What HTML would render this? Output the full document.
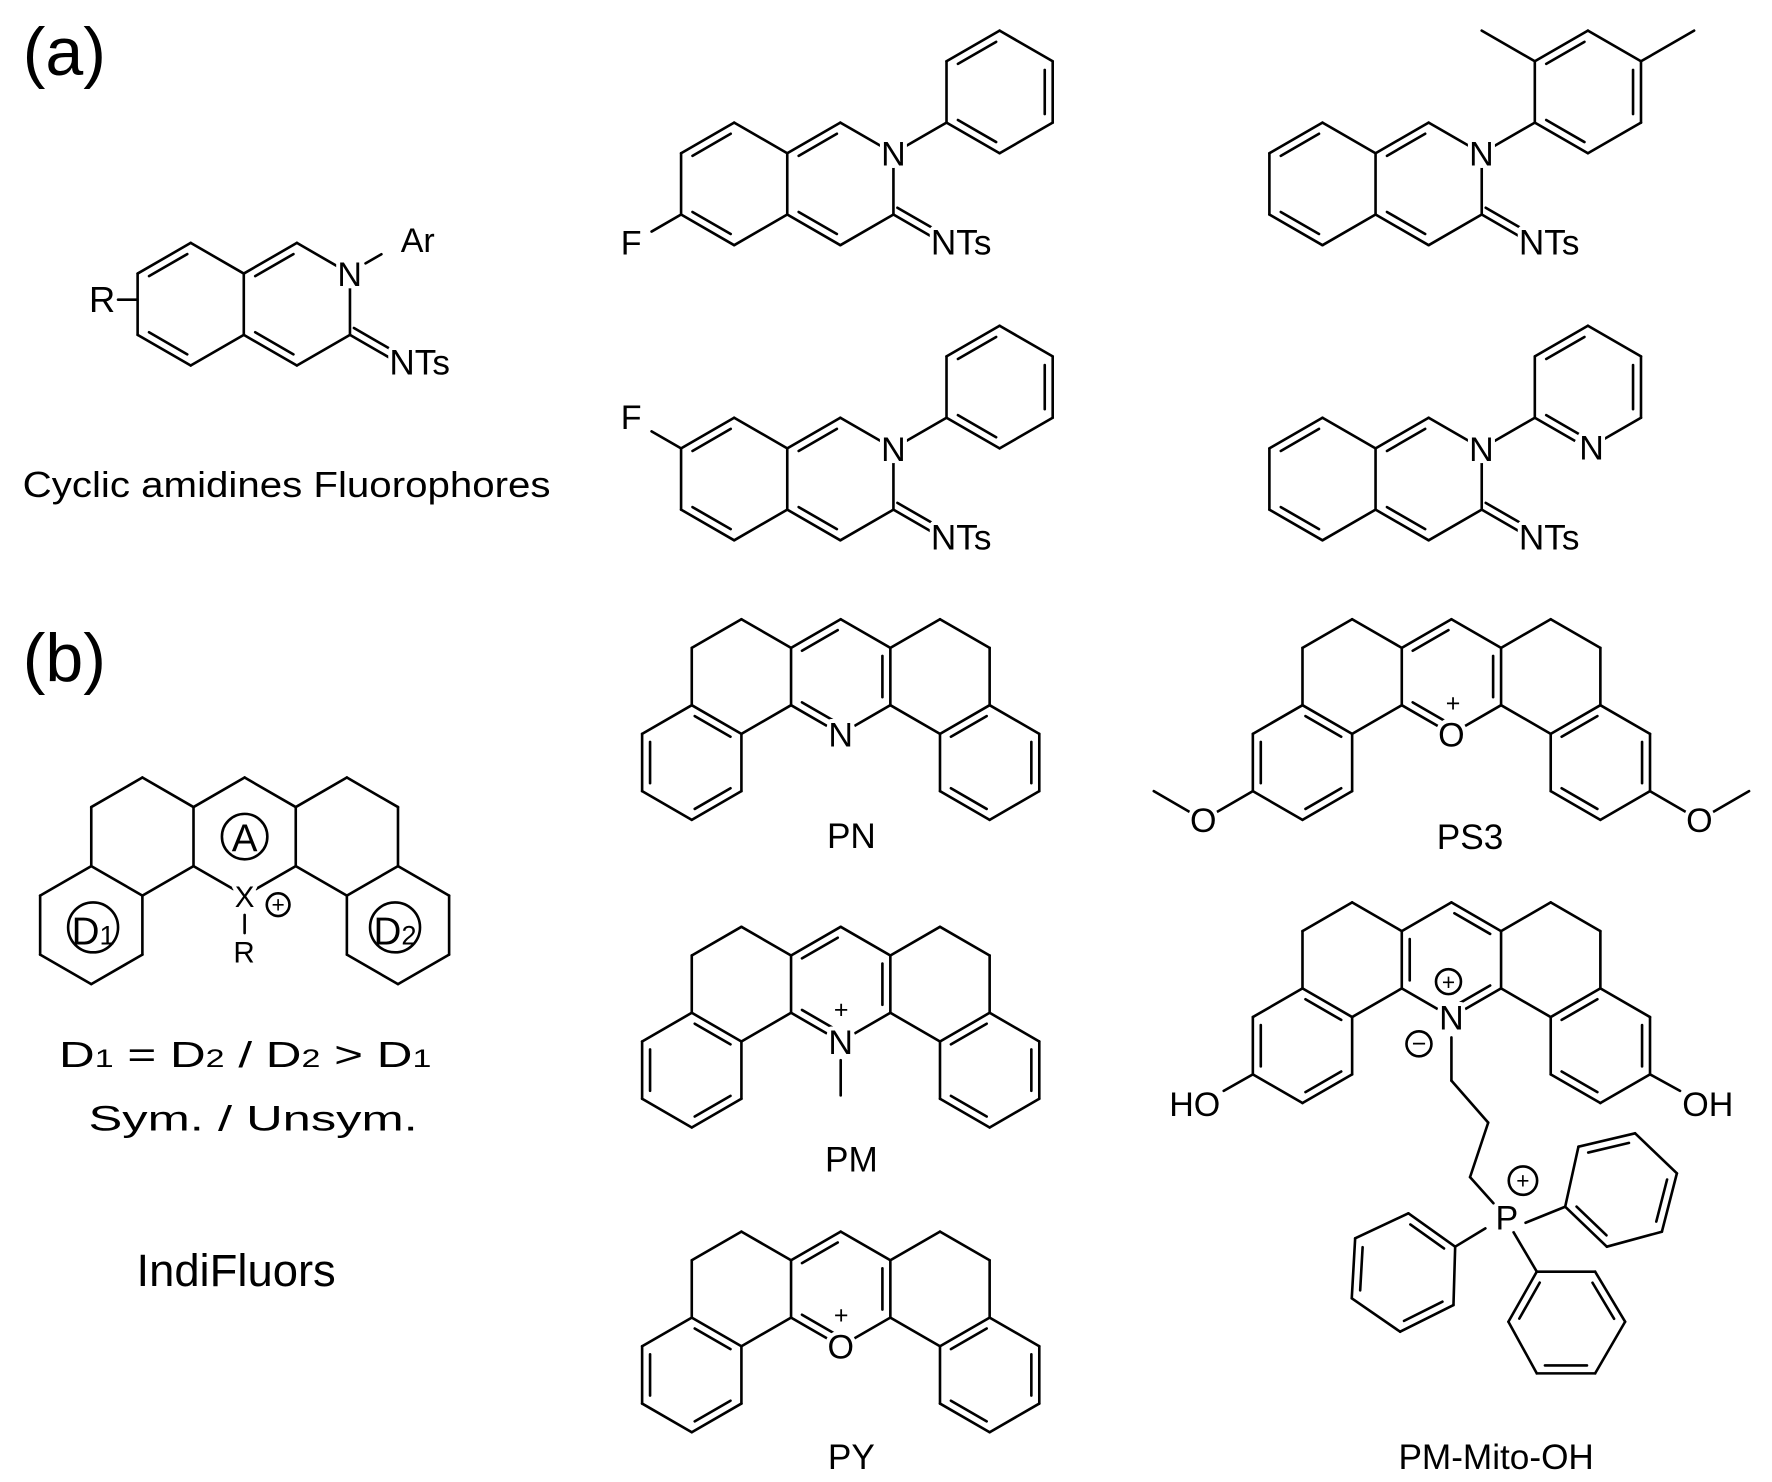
<!DOCTYPE html>
<html><head><meta charset="utf-8"><style>
html,body{margin:0;padding:0;background:#fff}
svg{display:block}
text{font-family:"Liberation Sans",Arial,sans-serif;fill:#000}
.h{stroke:#fff;stroke-width:7;paint-order:stroke;stroke-linejoin:round}
</style></head><body>
<svg id="s" xmlns="http://www.w3.org/2000/svg" width="1772" height="1482" viewBox="0 0 1561 1305.6" preserveAspectRatio="none">
<rect width="1561" height="1306" fill="#fff"/>
<g id="b" stroke="#000" stroke-width="2.3" fill="none" stroke-linecap="round"></g>
<g id="m" fill="#fff" stroke="none"></g>
<g id="t">
<text x="20" y="66" font-size="60">(a)</text>
<text x="20" y="600" font-size="60">(b)</text>

<text class="h" x="90" y="275" font-size="32" text-anchor="middle">R</text>
<text class="h" x="308" y="252" font-size="30" text-anchor="middle">N</text>
<text x="368" y="222" font-size="30" text-anchor="middle">Ar</text>
<text class="h" x="343" y="330" font-size="31">NTs</text>
<text x="20" y="438" font-size="32" textLength="465" lengthAdjust="spacingAndGlyphs">Cyclic amidines Fluorophores</text>

<text class="h" x="787" y="146" font-size="30" text-anchor="middle">N</text>
<text class="h" x="820" y="224" font-size="31">NTs</text>
<text class="h" x="556" y="224" font-size="30" text-anchor="middle">F</text>
<text class="h" x="1305" y="146" font-size="30" text-anchor="middle">N</text>
<text class="h" x="1338" y="224" font-size="31">NTs</text>
<text class="h" x="787" y="406" font-size="30" text-anchor="middle">N</text>
<text class="h" x="820" y="484" font-size="31">NTs</text>
<text class="h" x="556" y="378" font-size="30" text-anchor="middle">F</text>
<text class="h" x="1305" y="406" font-size="30" text-anchor="middle">N</text>
<text class="h" x="1338" y="484" font-size="31">NTs</text>
<text class="h" x="1402" y="405" font-size="30" text-anchor="middle">N</text>

<text x="215.5" y="750" font-size="34" text-anchor="middle">A</text>
<text class="h" x="215.5" y="799" font-size="26" text-anchor="middle">X</text>
<text x="215" y="848" font-size="26" text-anchor="middle">R</text>
<text x="245" y="804" font-size="20" text-anchor="middle">+</text>
<text x="82" y="832" font-size="34" text-anchor="middle">D<tspan font-size="24">1</tspan></text>
<text x="348" y="832" font-size="34" text-anchor="middle">D<tspan font-size="24">2</tspan></text>
<text x="52" y="940" font-size="32" textLength="328" lengthAdjust="spacingAndGlyphs">D<tspan font-size="22">1</tspan> = D<tspan font-size="22">2</tspan>  /  D<tspan font-size="22">2</tspan> &gt; D<tspan font-size="22">1</tspan></text>
<text x="78" y="996" font-size="31" textLength="290" lengthAdjust="spacingAndGlyphs">Sym.   /   Unsym.</text>
<text x="208" y="1133" font-size="40" text-anchor="middle">IndiFluors</text>

<text class="h" x="740.6" y="657.5" font-size="30" text-anchor="middle">N</text>
<text x="750" y="747" font-size="31" text-anchor="middle">PN</text>
<text class="h" x="740.6" y="928.5" font-size="30" text-anchor="middle">N</text>
<text x="741" y="897" font-size="22" text-anchor="middle">+</text>
<text x="750" y="1032" font-size="31" text-anchor="middle">PM</text>
<text class="h" x="740.6" y="1197" font-size="30" text-anchor="middle">O</text>
<text x="741" y="1166" font-size="22" text-anchor="middle">+</text>
<text x="750" y="1294" font-size="31" text-anchor="middle">PY</text>

<text class="h" x="1278.6" y="657.5" font-size="30" text-anchor="middle">O</text>
<text x="1280" y="627" font-size="22" text-anchor="middle">+</text>
<text class="h" x="1060" y="733" font-size="30" text-anchor="middle">O</text>
<text class="h" x="1497" y="733" font-size="30" text-anchor="middle">O</text>
<text x="1295" y="748" font-size="31" text-anchor="middle">PS3</text>

<text class="h" x="1278.6" y="907" font-size="30" text-anchor="middle">N</text>
<text x="1276" y="872" font-size="20" text-anchor="middle">+</text>
<text x="1250" y="927" font-size="22" text-anchor="middle">−</text>
<text class="h" x="1075" y="983" font-size="30" text-anchor="end">HO</text>
<text class="h" x="1482" y="983" font-size="30">OH</text>
<text class="h" x="1327.4" y="1083" font-size="30" text-anchor="middle">P</text>
<text x="1341.6" y="1047" font-size="20" text-anchor="middle">+</text>
<text x="1318" y="1294" font-size="31" text-anchor="middle">PM-Mito-OH</text>
</g>
</svg>
<script>
(function(){
var g=document.getElementById('b'),mk=document.getElementById('m'),NS='http://www.w3.org/2000/svg',S=Math.sqrt(3);
function L(x1,y1,x2,y2){var e=document.createElementNS(NS,'line');e.setAttribute('x1',x1);e.setAttribute('y1',y1);e.setAttribute('x2',x2);e.setAttribute('y2',y2);g.appendChild(e);}
function C(x,y,r){var e=document.createElementNS(NS,'circle');e.setAttribute('cx',x);e.setAttribute('cy',y);e.setAttribute('r',r);g.appendChild(e);}
function M(x,y,r){var e=document.createElementNS(NS,'circle');e.setAttribute('cx',x);e.setAttribute('cy',y);e.setAttribute('r',r||13);mk.appendChild(e);}
function E(p,q){L(p[0],p[1],q[0],q[1]);}
function hex(cx,cy,r){var v=[];for(var i=0;i<6;i++){var t=(-90+60*i)*Math.PI/180;v.push([cx+r*Math.cos(t),cy+r*Math.sin(t)]);}return v;}
function DI(p,q,c){var dx=q[0]-p[0],dy=q[1]-p[1],l=Math.hypot(dx,dy),nx=-dy/l,ny=dx/l;var mx=(p[0]+q[0])/2,my=(p[1]+q[1])/2;if(nx*(c[0]-mx)+ny*(c[1]-my)<0){nx=-nx;ny=-ny;}var o=7,s=0.14;L(p[0]+dx*s+nx*o,p[1]+dy*s+ny*o,q[0]-dx*s+nx*o,q[1]-dy*s+ny*o);}
function ring(v,edges,dbl,c){edges.forEach(function(i){E(v[i],v[(i+1)%6]);});(dbl||[]).forEach(function(i){DI(v[i],v[(i+1)%6],c);});}
var ALL=[0,1,2,3,4,5];
function rotRing(v,d){var cx=0,cy=0;v.forEach(function(p){cx+=p[0]/6;cy+=p[1]/6;});ring(v,ALL,d,[cx,cy]);}
function iso(cx,cy,r){var A=hex(cx,cy,r),bx=cx+r*S,B=hex(bx,cy,r);
 ring(A,ALL,[5,3],[cx,cy]);ring(B,[5,0,1,2,3],[5,3],[bx,cy]);
 var e=[B[2][0]+40*Math.cos(Math.PI/6),B[2][1]+40*Math.sin(Math.PI/6)];
 E(B[2],e);L(B[2][0]+3.5,B[2][1]-6,e[0]+3.5,e[1]-6);M(B[1][0],B[1][1]);return {A:A,B:B};}
function aryl(N,r){var ll=[N[0]+r*S/2,N[1]-r/2];E(N,ll);var c=[ll[0]+r*S/2,ll[1]-r/2];return hex(c[0],c[1],r).concat([c]);}
var r=54;
var o=iso(168,268,r);L(104,264,121,264);L(322,232,336,224);
o=iso(646.75,162,r);var a=aryl(o.B[1],r);ring(a,ALL,[5,1,3],a[6]);E(o.A[4],[574,204]);
o=iso(1165,162,r);a=aryl(o.B[1],r);ring(a,ALL,[5,1,3],a[6]);
L(a[5][0],a[5][1],a[5][0]-46.8,a[5][1]-27);L(a[1][0],a[1][1],a[1][0]+46.8,a[1][1]-27);
o=iso(646.75,422,r);a=aryl(o.B[1],r);ring(a,ALL,[5,1,3],a[6]);E(o.A[5],[574,380]);
o=iso(1165,422,r);a=aryl(o.B[1],r);ring(a,ALL,[5,1,3],a[6]);M(a[3][0],a[3][1]);
function tet(cx,cy,r,type){var P=hex(cx,cy,r),C1=hex(cx-r*S,cy,r),C2=hex(cx+r*S,cy,r),
 b1=[cx-1.5*r*S,cy+1.5*r],b2=[cx+1.5*r*S,cy+1.5*r],B1=hex(b1[0],b1[1],r),B2=hex(b2[0],b2[1],r);
 ring(C1,[5,0,4,2]);ring(C2,[5,0,1,3]);
 var pd=type==='L'?[5,1,3]:(type==='R'?[4,0,2]:[]);
 ring(P,ALL,pd,[cx,cy]);
 ring(B1,ALL,type?[4,0,2]:[],b1);ring(B2,ALL,type?[1,5,3]:[],b2);
 M(P[3][0],P[3][1],type?14:11);
 return {P:P,B1:B1,B2:B2};}
var R2=50.5;
tet(740.6,596,R2,'L');
tet(740.6,867,R2,'L');L(740.6,934,740.6,965);
tet(740.6,1135.5,R2,'L');
var t=tet(1278.6,596,R2,'L');
E(t.B1[4],[1060,722.3]);L(1060,722.3,1016.4,697);M(1060,722.3);
E(t.B2[2],[1497.1,722.3]);L(1497.1,722.3,1540.8,697);M(1497.1,722.3);
t=tet(1278.6,845.5,R2,'R');
L(t.B1[4][0],t.B1[4][1],1078,961);L(t.B2[2][0],t.B2[2][1],1480,961);
C(1276,864.8,11);C(1250,919.6,11);
L(1278.6,914,1278.6,952);L(1278.6,952,1311,989);L(1311,989,1295,1037);L(1295,1037,1315.6,1060);
C(1341.6,1040.1,12.5);
L(1343.9,1077.2,1378.8,1063.1);
rotRing([[1378.8,1063.1],[1390.5,1010.2],[1440.4,998.4],[1477.2,1033.7],[1464,1085.1],[1415.5,1098.3]],[1,3,5]);
L(1308.5,1082.2,1281.9,1098.3);
rotRing([[1281.9,1098.3],[1240.7,1068.9],[1193.8,1090.9],[1190.8,1143.8],[1233.4,1173.2],[1280.4,1149.7]],[0,2,4]);
L(1333.3,1085.5,1353.8,1120.3);
rotRing([[1353.8,1120.3],[1405.2,1120.3],[1431.6,1164.4],[1405.2,1209.9],[1353.8,1209.9],[1328.8,1164.4]],[1,3,5]);
M(1327.4,1071.9,14);
tet(215.5,737,52,null);
C(215.5,737,20);C(82,817,22);C(348,817,22);C(245,797,10);
L(215.5,806,215.5,822);
M(556,213,12);M(556,368,12);
})();
</script>
</body></html>
